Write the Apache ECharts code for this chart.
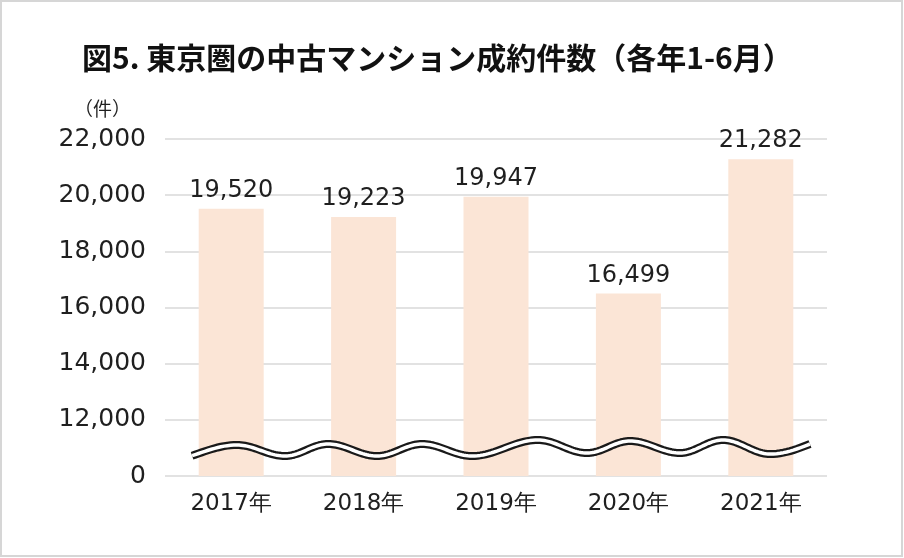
<!DOCTYPE html>
<html>
<head>
<meta charset="utf-8">
<script src="https://cdn.jsdelivr.net/npm/echarts@6/dist/echarts.min.js"></script>
<style>
html,body{margin:0;padding:0;background:#fff;}
#main{width:904px;height:558px;}
</style>
</head>
<body>
<div id="main"></div>
<script>
var titleText = '図5. 東京圏の中古マンション成約件数（各年1-6月）';
var unitText = '（件）';
var categories = ['2017年', '2018年', '2019年', '2020年', '2021年'];
var values = [19520, 19223, 19947, 16499, 21282];
var axisMin = 10000;   // shown as "0" (broken axis)
var axisMax = 22000;
var axisStep = 2000;

var chart = echarts.init(document.getElementById('main'));
var numFont = '"DejaVu Sans", Verdana, sans-serif';
var txt = '#1f1f1f';

// wave decoration (axis break marker): extrema, joined by cosine interpolation, clipped to [192, 813]
var waveKeys = [[160,462],[237,445],[285,456],[328,444],[377,456],[422,444],[472,456],[538,440],[587,453],[630,441],[680,453],[723,440],[770,454],[850,434]];
var wavePts = [];
for (var i = 0; i < waveKeys.length - 1; i++) {
  var a = waveKeys[i], b = waveKeys[i + 1];
  for (var k = 0; k <= 24; k++) {
    var t = k / 24;
    var x = a[0] + (b[0] - a[0]) * t;
    if (x < 192 || x > 813) continue;
    wavePts.push([x, a[1] + (b[1] - a[1]) * (1 - Math.cos(Math.PI * t)) / 2]);
  }
}

chart.setOption({
  animation: false,
  backgroundColor: '#fff',
  title: {
    text: titleText,
    left: 77, top: 38,
    textStyle: { fontFamily: 'Noto Sans CJK JP', fontWeight: 'bold', fontSize: 30, color: '#111' }
  },
  grid: { left: 165, right: 77, top: 139, bottom: 82 },
  xAxis: {
    type: 'category',
    data: categories,
    axisLine: { show: false },
    axisTick: { show: false },
    axisLabel: { margin: 17, fontSize: 23, color: txt, fontFamily: numFont }
  },
  yAxis: {
    type: 'value',
    min: axisMin, max: axisMax, interval: axisStep,
    axisLine: { show: false },
    axisTick: { show: false },
    splitLine: { lineStyle: { color: '#d9d9d9', width: 1.5 } },
    axisLabel: {
      margin: 19, fontSize: 25, color: txt, fontFamily: numFont,
      formatter: function (v) { return v === axisMin ? '0' : v.toLocaleString('en-US'); }
    }
  },
  series: [{
    type: 'bar',
    data: values,
    barWidth: 65,
    itemStyle: { color: '#FBE5D6' },
    label: {
      show: true, position: 'top', distance: 6,
      fontSize: 24, color: txt, fontFamily: numFont,
      formatter: function (p) { return p.value.toLocaleString('en-US'); }
    }
  }],
  graphic: [
    { type: 'text', left: 74, top: 99, style: { text: unitText, fontSize: 19, fill: txt, fontFamily: 'Noto Sans CJK JP' } },
    { type: 'polyline', shape: { points: wavePts }, style: { stroke: '#1a1a1a', lineWidth: 8, fill: null, lineJoin: 'round' }, z: 100 },
    { type: 'polyline', shape: { points: wavePts }, style: { stroke: '#ffffff', lineWidth: 3.5, fill: null, lineJoin: 'round' }, z: 101 },
    { type: 'rect', shape: { x: 1, y: 1, width: 901, height: 555 }, style: { stroke: '#d6d6d6', lineWidth: 2, fill: null }, z: 200 }
  ]
});
</script>
</body>
</html>
